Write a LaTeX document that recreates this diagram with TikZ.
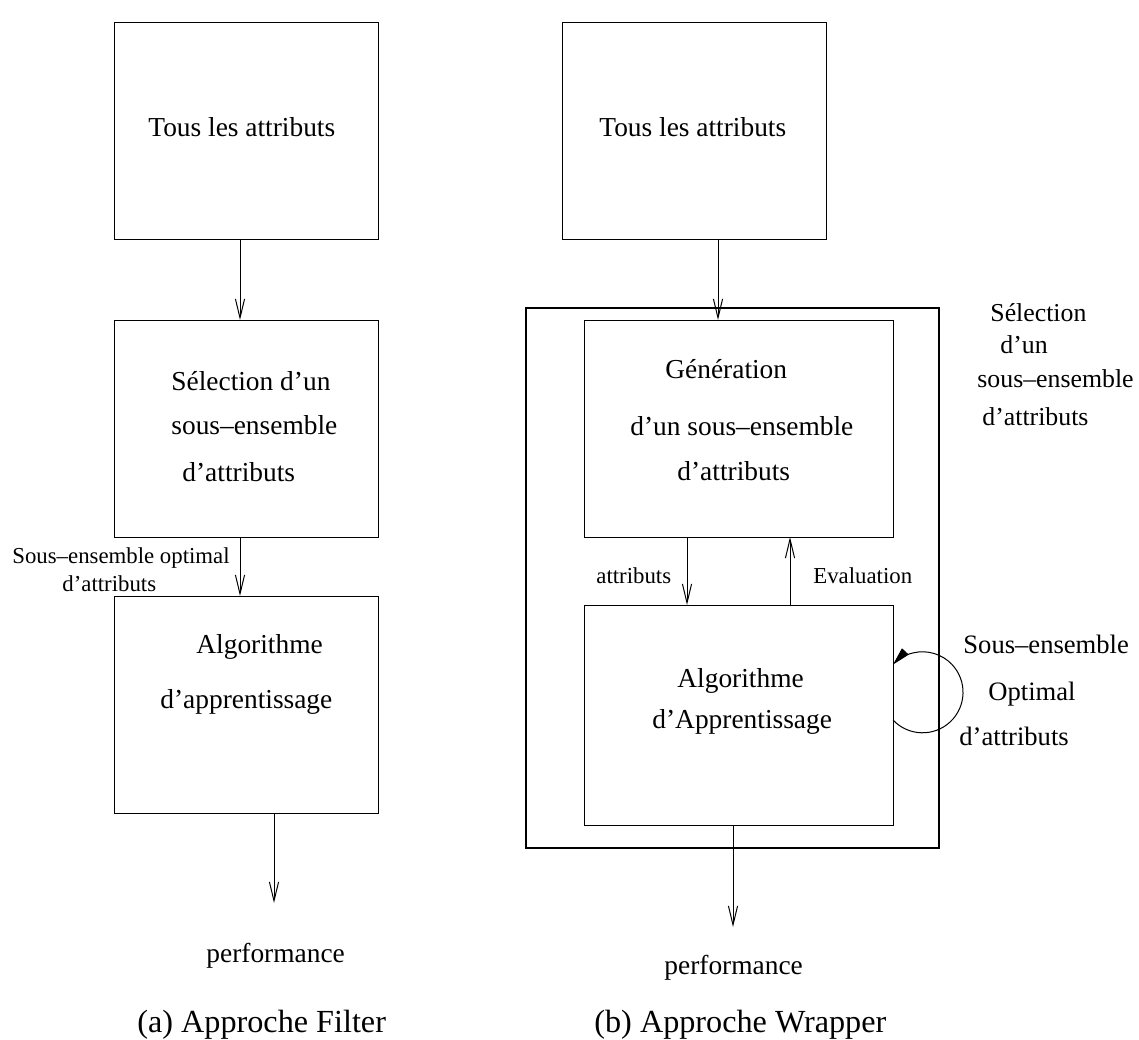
\documentclass[tikz,border=0pt]{standalone}
\usepackage{fontspec}
\setmainfont{Liberation Serif}
\usetikzlibrary{arrows.meta}
\begin{document}
\begin{tikzpicture}[x=0.5pt,y=-0.5pt,
  box/.style={draw,line width=0.5pt,inner sep=0pt,outer sep=0pt,
    minimum width=132pt,minimum height=108.5pt},
  wide/.style={box,minimum width=154.5pt},
  frame/.style={draw,line width=1.1pt,inner sep=0pt,outer sep=0pt,
    minimum width=206.5pt,minimum height=270pt},
  txt/.style={anchor=base west,inner sep=0pt,font=\fontsize{13.7}{16}\selectfont},
  side/.style={txt,font=\fontsize{12.9}{15}\selectfont},
  loopt/.style={txt,font=\fontsize{13.3}{15}\selectfont},
  small/.style={txt,font=\fontsize{11.4}{13}\selectfont},
  captext/.style={txt,font=\fontsize{16.1}{19}\selectfont},
  arr/.style={line width=0.5pt,-{Straight Barb[length=9.5pt,width=4.6pt]}},
  looparr/.style={line width=0.5pt,-{Triangle[length=9pt,width=4.5pt]}}
]
\useasboundingbox (0,0) rectangle (1139,1039);

% ---------- (a) filter approach ----------
\node[box] (fa1) at (246,131) {};
\node[box] (fa2) at (246,428.5) {};
\node[box] (fa3) at (246,704.5) {};

\node[txt] (fa1t) at (148,136) {Tous les attributs};
\node[txt] (fa2t1) at (171,390) {Sélection d’un};
\node[txt] (fa2t2) at (171,434) {sous–ensemble};
\node[txt] (fa2t3) at (182,481) {d’attributs};
\node[txt] (fa3t1) at (196,653) {Algorithme};
\node[txt] (fa3t2) at (160,708) {d’apprentissage};

\node[small] (fal1) at (12,563) {Sous–ensemble optimal};
\node[small] (fal2) at (62,591) {d’attributs};

\coordinate (faout) at (274,903);
\node[txt] (faperf) at (206,962) {performance};
\node[captext] (facap) at (137,1032) {(a) Approche Filter};

\draw[arr] ([xshift=-3pt]fa1.south) -- ([xshift=-3pt]fa2.north);
\draw[arr] ([xshift=-3pt]fa2.south) -- ([xshift=-3pt]fa3.north);
\draw[arr] (fa3.south -| faout) -- (faout);

% ---------- (b) wrapper approach ----------
\node[box] (wb1) at (694,131) {};
\node[frame] (wsel) at (732.5,578) {};
\node[wide] (wgen) at (738.5,428.5) {};
\node[wide,minimum height=110pt] (walg) at (738.5,715) {};

\node[txt] (wb1t) at (599,136) {Tous les attributs};
\node[txt] (wgt1) at (665,378) {Génération};
\node[txt] (wgt2) at (630,435) {d’un sous–ensemble};
\node[txt] (wgt3) at (677,480) {d’attributs};
\node[txt] (wat1) at (677,687) {Algorithme};
\node[txt] (wat2) at (652,728) {d’Apprentissage};

\node[side] (wst1) at (990,321) {Sélection};
\node[side] (wst2) at (1000,353) {d’un};
\node[side] (wst3) at (977,387) {sous–ensemble};
\node[side] (wst4) at (982,425) {d’attributs};

\node[loopt] (wlt1) at (963,653) {Sous–ensemble};
\node[loopt] (wlt2) at (988,700) {Optimal};
\node[loopt] (wlt3) at (959,745) {d’attributs};

\node[small] (wlab1) at (596,583) {attributs};
\node[small] (wlab2) at (813,583) {Evaluation};

\coordinate (wbout) at (733,927);
\node[txt] (wbperf) at (664,974) {performance};
\node[captext] (wbcap) at (594,1032) {(b) Approche Wrapper};

\coordinate (wbin) at ([xshift=12pt]wb1.south);
\draw[arr] (wbin) -- (wbin |- wgen.north);
\draw[arr] ([xshift=-25.75pt]wgen.south) -- ([xshift=-25.75pt]walg.north);
\draw[arr] ([xshift=25.75pt]walg.north) -- ([xshift=25.75pt]wgen.south);
\draw[arr] (walg.south -| wbout) -- (wbout);

% self loop on the learning algorithm
\coordinate (wloop) at ([yshift=-2.5pt]walg.east);
\draw[looparr] (wloop) arc[start angle=223.2,end angle=496.8,radius=20.25pt];
\end{tikzpicture}
\end{document}
